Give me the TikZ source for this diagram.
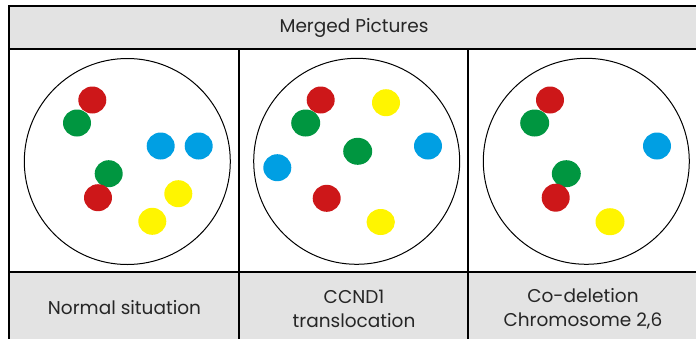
\documentclass[tikz,border=0pt]{standalone}
\usepackage{fontspec}
\setmainfont{Poppins}
\usepackage{tikz}
\definecolor{cellgrey}{HTML}{E3E3E3}
\definecolor{fishred}{HTML}{CD1719}
\definecolor{fishgreen}{HTML}{009640}
\definecolor{fishblue}{HTML}{009FE3}
\definecolor{fishyellow}{HTML}{FFF500}
\tikzset{
	label text/.style={font=\fontsize{18.5}{24}\selectfont, align=center, text=black!85},
	nucleus/.style={draw, line width=1pt},
}

\begin{document}
\begin{tikzpicture}[x=1pt,y=-1pt]
	\useasboundingbox (0,0) rectangle (696,338);
	% Grey rows
	\fill[cellgrey] (9,6) rectangle (700,49);
	\fill[cellgrey] (9,272) rectangle (700,340);

	% Draw table
	\draw[line width=2.2pt] (700,6) -- (9,6) -- (9,340);
	\draw[line width=2pt] (9,49) -- (700,49);
	\draw[line width=1.8pt] (9,272) -- (700,272);
	\draw[line width=1.8pt] (239,49) -- (239,340);
	\draw[line width=1.8pt] (468,49) -- (468,340);

	%Header and labels
	\node[label text] (title) at (354,28) {Merged Pictures};
	\node[label text] (normal) at (124.5,308) {Normal situation};
	\node[label text] (ccnd) at (354,309) {CCND1\\translocation};
	\node[label text] (codel) at (583,309) {Co-deletion\\Chromosome 2,6};

	%Nuclei
	\draw[nucleus] (127.3,161.5) circle [radius=103];
	\draw[nucleus] (356.7,161.3) circle [radius=103];
	\draw[nucleus] (586.3,161.3) circle [radius=103];

	%Normal situation
	\fill[fishred] (92.3,100) ellipse [x radius=14, y radius=13.5];
	\fill[fishgreen] (77,123) ellipse [x radius=14, y radius=13.5];
	\fill[fishblue] (160.7,146) ellipse [x radius=14, y radius=13.5];
	\fill[fishblue] (198.7,146) ellipse [x radius=14, y radius=13.5];
	\fill[fishgreen] (108.7,173.7) ellipse [x radius=14, y radius=13.5];
	\fill[fishred] (98,197.7) ellipse [x radius=14, y radius=13.5];
	\fill[fishyellow] (178.3,193.7) ellipse [x radius=14, y radius=13.5];
	\fill[fishyellow] (152.3,221.3) ellipse [x radius=14, y radius=13.5];

	%CCND1 translocation
	\fill[fishred] (320.7,100) ellipse [x radius=14, y radius=13.5];
	\fill[fishgreen] (305.7,123) ellipse [x radius=14.5, y radius=13.5];
	\fill[fishyellow] (386,102.7) ellipse [x radius=14, y radius=13.5];
	\fill[fishgreen] (357.7,151.3) ellipse [x radius=14.5, y radius=13.5];
	\fill[fishblue] (428,146) ellipse [x radius=14, y radius=13.5];
	\fill[fishblue] (277.3,167.7) ellipse [x radius=14, y radius=13.5];
	\fill[fishred] (326.7,198.3) ellipse [x radius=14, y radius=13.5];
	\fill[fishyellow] (380.7,222) ellipse [x radius=14.2, y radius=13];

	%Co-deletion
	\fill[fishred] (550,100) ellipse [x radius=14, y radius=13.5];
	\fill[fishgreen] (534.7,123) ellipse [x radius=14.5, y radius=13.5];
	\fill[fishblue] (657,146) ellipse [x radius=14, y radius=13.5];
	\fill[fishgreen] (566.3,173.7) ellipse [x radius=14.5, y radius=13.5];
	\fill[fishred] (555.7,197.7) ellipse [x radius=14, y radius=14];
	\fill[fishyellow] (610,221.7) ellipse [x radius=14.5, y radius=13.5];
\end{tikzpicture}
\end{document}
